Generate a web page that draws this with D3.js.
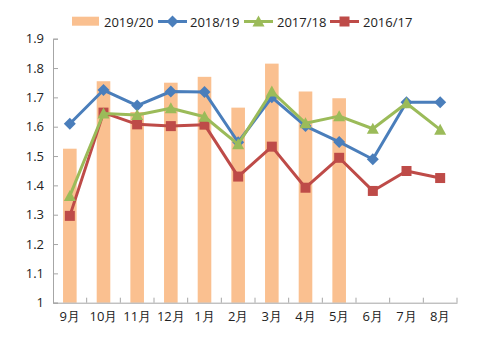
<!DOCTYPE html>
<html><head><meta charset="utf-8">
<script src="https://cdn.jsdelivr.net/npm/d3@7"></script>
<style>body{margin:0;background:#fff}svg{display:block}text{font-family:"Open Sans","DejaVu Sans",sans-serif;}</style>
</head><body>
<script>
const categories = ["9月","10月","11月","12月","1月","2月","3月","4月","5月","6月","7月","8月"];
const s2019 = [1.525,1.755,1.65,1.75,1.77,1.665,1.815,1.72,1.697,null,null,null];
const s2018 = [1.61,1.725,1.672,1.72,1.718,1.547,1.70,1.602,1.548,1.489,1.683,1.683];
const s2017 = [1.364,1.645,1.64,1.663,1.634,1.54,1.72,1.612,1.636,1.593,1.68,1.59];
const s2016 = [1.296,1.648,1.608,1.602,1.607,1.43,1.532,1.392,1.494,1.381,1.449,1.425];
const yTicks = [1,1.1,1.2,1.3,1.4,1.5,1.6,1.7,1.8,1.9];
const names = ["2019/20","2018/19","2017/18","2016/17"];

const W=492,H=343;
const svg=d3.select("body").append("svg").attr("width",W).attr("height",H);
const x=d3.scaleBand().domain(categories).range([53,457]).paddingInner(0.6).paddingOuter(0.3);
const xp=d3.scalePoint().domain(categories).range([53+404/24,457-404/24]);
const y=d3.scaleLinear().domain([1,1.9]).range([302.7,38.7]);
const axisColor="#a6a6a6";

// bars
svg.append("g").selectAll("rect").data(categories.map((c,i)=>({c,v:s2019[i]})).filter(d=>d.v!=null))
 .join("rect").attr("x",d=>xp(d.c)-6.8).attr("width",13.6)
 .attr("y",d=>y(d.v)).attr("height",d=>y(1)-y(d.v)).attr("fill","#fac090");

// axes
const ya=svg.append("g").attr("transform","translate(53,0)")
 .call(d3.axisRight(y).tickValues(yTicks).tickSize(5).tickFormat(d=>d3.format("")(+d.toFixed(1))));
ya.select(".domain").attr("stroke",axisColor);
ya.selectAll(".tick line").attr("stroke",axisColor);
ya.selectAll(".tick text").attr("x",-9).attr("text-anchor","end").attr("font-size",13).attr("fill","#222");

const xa=svg.append("g").attr("transform",`translate(0,${y(1)})`)
 .call(d3.axisBottom(x).tickSize(0).tickSizeOuter(0));
xa.select(".domain").attr("stroke",axisColor);
xa.selectAll(".tick text").attr("dy","1.15em").attr("font-size",13).attr("fill","#222").attr("x",0);
xa.selectAll(".tick").attr("transform",d=>`translate(${xp(d)},0)`);
// inner tick marks between categories
const bounds=d3.range(categories.length+1).map(i=>53+i*404/categories.length);
svg.append("g").selectAll("line").data(bounds.slice(1)).join("line")
 .attr("x1",d=>d).attr("x2",d=>d).attr("y1",y(1)).attr("y2",y(1)-5).attr("stroke",axisColor);

const line=d3.line().x((d,i)=>xp(categories[i])).y(d=>y(d));
const series=[
 {data:s2016,color:"#be4b48",mk:"square"},
 {data:s2017,color:"#9bbb59",mk:"triangle"},
 {data:s2018,color:"#4a7ebb",mk:"diamond"}
];
function marker(g,type,color,cx,cy){
 if(type==="square") g.append("rect").attr("x",cx-5).attr("y",cy-5).attr("width",10).attr("height",10).attr("fill",color);
 else if(type==="triangle") g.append("path").attr("d",`M${cx},${cy-6}L${cx+6},${cy+5}L${cx-6},${cy+5}Z`).attr("fill",color);
 else g.append("path").attr("d",`M${cx},${cy-6}L${cx+6},${cy}L${cx},${cy+6}L${cx-6},${cy}Z`).attr("fill",color);
}
// draw order: 2016 first? reference: blue on top at 3月? green above blue at 3月; draw red, blue, green
const order=[series[0],series[2],series[1]];
order.forEach(s=>{
 const g=svg.append("g");
 g.append("path").datum(s.data).attr("d",line).attr("fill","none").attr("stroke",s.color).attr("stroke-width",3).attr("stroke-linejoin","round");
 s.data.forEach((v,i)=>marker(g,s.mk,s.color,xp(categories[i]),y(v)));
});

// legend
const lg=svg.append("g");
lg.append("rect").attr("x",72).attr("y",16.7).attr("width",27).attr("height",9).attr("fill","#fac090");
lg.append("text").attr("x",104).attr("y",26.5).attr("font-size",13).attr("fill","#222").text(names[0]);
const legItems=[{x:158,tx:190,s:series[2],n:names[1]},{x:244,tx:277,s:series[1],n:names[2]},{x:330,tx:363,s:series[0],n:names[3]}];
legItems.forEach(it=>{
 lg.append("line").attr("x1",it.x).attr("x2",it.x+29).attr("y1",21.5).attr("y2",21.5).attr("stroke",it.s.color).attr("stroke-width",3);
 marker(lg,it.s.mk,it.s.color,it.x+14.5,21.5);
 lg.append("text").attr("x",it.tx).attr("y",26.5).attr("font-size",13).attr("fill","#222").text(it.n);
});
</script>
</body></html>
